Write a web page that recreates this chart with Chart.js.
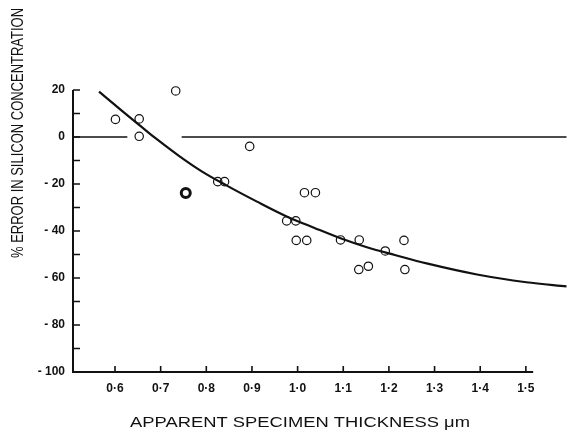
<!DOCTYPE html>
<html>
<head>
<meta charset="utf-8">
<script src="https://cdn.jsdelivr.net/npm/chart.js@4.4.1/dist/chart.umd.min.js"></script>
<style>
html,body{margin:0;padding:0;background:#fff}
#wrap{width:574px;height:436px}
</style>
</head>
<body>
<div id="wrap"><canvas id="fig"></canvas></div>
<script>
// measured points (open circles)
var pointX = [0.601,0.653,0.653,0.733,0.825,0.840,0.895,0.976,0.996,0.997,1.015,1.020,1.039,1.094,1.135,1.134,1.155,1.192,1.233,1.235]
var pointY = [7.5,7.7,0.3,19.6,-19,-19,-4,-35.7,-35.7,-44,-23.7,-44,-23.7,-43.8,-43.8,-56.4,-55,-48.5,-44,-56.4]
// the one heavy circle
var boldX = [0.755]
var boldY = [-23.8]
// fitted curve
var curveX = [0.565,0.616,0.652,0.688,0.740,0.790,0.846,0.911,0.976,1.037,1.094,1.150,1.213,1.285,1.393,1.501,1.589]
var curveY = [19.3,11.0,5.3,-0.4,-8.0,-14.6,-20.8,-27.5,-33.8,-38.7,-43.1,-46.8,-50.2,-53.9,-58.5,-61.8,-63.6]
// zero line, broken near the axis
var zeroLeft = [0.508,0.627]
var zeroRight = [0.746,1.589]

var xTicks = [0.6,0.7,0.8,0.9,1.0,1.1,1.2,1.3,1.4,1.5]
var xTickLabels = ['0·6','0·7','0·8','0·9','1·0','1·1','1·2','1·3','1·4','1·5']
var yMinor = [10,0,-10,-20,-30,-40,-50,-60,-70,-80,-90]
var xMin = 0.508, xMax = 1.589, xAxisEnd = 1.516

function pts(xs, ys){
    var out = []
    for(var i=0;i<xs.length;i++) out.push({x:xs[i], y:ys[i]})
    return out
}

function fitText(c, text, cx, cy, len, angle){
    c.save()
    c.translate(cx, cy)
    c.rotate(angle)
    var w = c.measureText(text).width
    c.scale(len/w, 1)
    c.fillText(text, 0, 0)
    c.restore()
}

var frame = {
    id:'frame',
    beforeDatasetsDraw:function(chart){
        var c = chart.ctx, xs = chart.scales.x, ys = chart.scales.y
        var x0 = xs.getPixelForValue(xMin)
        var yb = ys.getPixelForValue(-100)
        var yt = ys.getPixelForValue(20)
        c.save()
        c.strokeStyle = '#111'
        c.lineWidth = 2
        c.beginPath()
        c.moveTo(x0, yt)
        c.lineTo(x0, yb)
        c.lineTo(xs.getPixelForValue(xAxisEnd), yb)
        c.stroke()
        c.lineWidth = 1.6
        c.beginPath()
        c.moveTo(x0, yt); c.lineTo(x0+7, yt)
        yMinor.forEach(function(v){
            var y = ys.getPixelForValue(v)
            c.moveTo(x0, y); c.lineTo(x0+7, y)
        })
        xTicks.forEach(function(v){
            var x = xs.getPixelForValue(v)
            c.moveTo(x, yb); c.lineTo(x, yb-6)
        })
        c.stroke()
        c.restore()
    },
    afterDraw:function(chart){
        var c = chart.ctx
        c.save()
        c.fillStyle = '#111'
        c.textAlign = 'center'
        c.textBaseline = 'middle'
        c.font = '15px "Liberation Sans"'
        fitText(c, 'APPARENT SPECIMEN THICKNESS μm', 300, 423, 340, 0)
        c.font = '16px "Liberation Sans"'
        fitText(c, '% ERROR IN SILICON CONCENTRATION', 18.5, 133, 250, -Math.PI/2)
        c.restore()
    }
}

var ctx = document.getElementById('fig').getContext('2d')
var set = {
    type:'scatter',
    plugins:[frame],
    data:{
        datasets:[{
            type:'line',
            data:pts(curveX, curveY),
            borderColor:'#111',
            borderWidth:2.2,
            pointRadius:0,
            cubicInterpolationMode:'monotone',
            fill:false
        },{
            type:'line',
            data:pts(zeroLeft,[0,0]),
            borderColor:'#111',
            borderWidth:1.6,
            pointRadius:0
        },{
            type:'line',
            data:pts(zeroRight,[0,0]),
            borderColor:'#111',
            borderWidth:1.6,
            pointRadius:0
        },{
            data:pts(pointX, pointY),
            borderColor:'#111',
            backgroundColor:'rgba(0,0,0,0)',
            borderWidth:1.2,
            pointRadius:4.2
        },{
            data:pts(boldX, boldY),
            borderColor:'#111',
            backgroundColor:'rgba(0,0,0,0)',
            borderWidth:3,
            pointRadius:4.5
        }]
    },
    options:{
        responsive:true,
        maintainAspectRatio:false,
        animation:false,
        clip:false,
        layout:{padding:{top:90,right:0,left:0,bottom:0}},
        plugins:{
            legend:{display:false},
            tooltip:{enabled:false}
        },
        scales:{
            x:{
                type:'linear',
                min:xMin,
                max:xMax,
                grid:{display:false, drawTicks:false},
                border:{display:false},
                afterBuildTicks:function(scale){
                    scale.ticks = xTicks.map(function(v){ return {value:v} })
                },
                afterFit:function(scale){ scale.height = 64 },
                ticks:{
                    padding:9,
                    color:'#111',
                    font:{family:'"Liberation Sans"', size:12, weight:'bold'},
                    maxRotation:0,
                    autoSkip:false,
                    callback:function(v){
                        var i = xTicks.findIndex(function(t){ return Math.abs(t-v)<1e-6 })
                        return i<0 ? '' : xTickLabels[i]
                    }
                }
            },
            y:{
                min:-100,
                max:20,
                grid:{display:false, drawTicks:false},
                border:{display:false},
                afterFit:function(scale){ scale.width = 73 },
                ticks:{
                    stepSize:20,
                    padding:8,
                    color:'#111',
                    font:{family:'"Liberation Sans"', size:12, weight:'bold'},
                    callback:function(v){ return v<0 ? '- '+(-v) : ''+v }
                }
            }
        }
    }
}
var chart1 = new Chart(ctx, set)
</script>
</body>
</html>
